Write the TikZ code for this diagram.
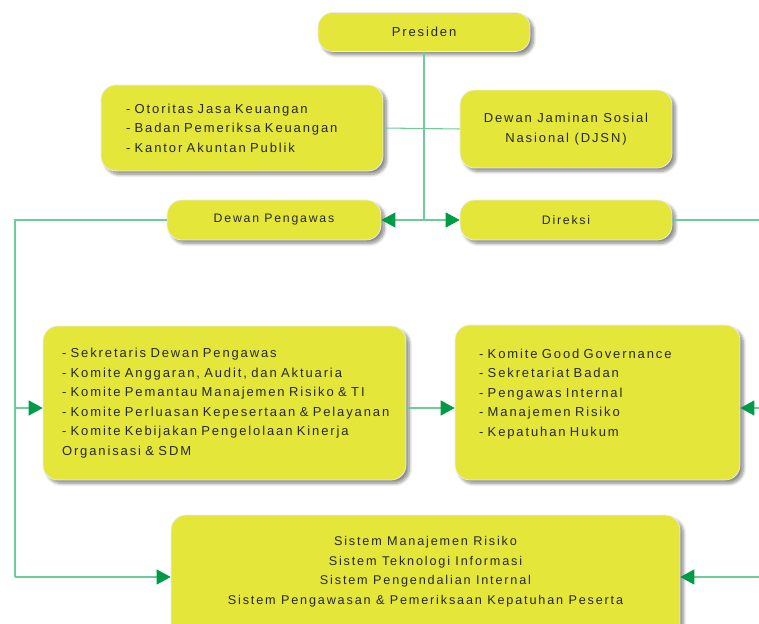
\documentclass[tikz,border=0pt]{standalone}
\usepackage{fontspec}
\newfontfamily\boxfont{Liberation Sans}[LetterSpace=14.5]
\usetikzlibrary{arrows.meta,shadows.blur}
\definecolor{boxyellow}{RGB}{229,230,58}
\definecolor{linegreen}{RGB}{110,205,150}
\definecolor{tipgreen}{RGB}{0,155,70}
\definecolor{boxtext}{RGB}{40,40,40}
\tikzset{
    orgbox/.style={rounded corners=0.3cm, fill=boxyellow, draw=white!85!gray,
        line width=0.4pt, text=boxtext, inner xsep=0pt,
        font=\boxfont\fontsize{7.4}{11.1}\selectfont,
        blur shadow={shadow xshift=0.07cm, shadow yshift=-0.07cm,
            shadow blur steps=8, shadow opacity=45}},
    conn/.style={draw=linegreen, line width=0.6pt},
    arr/.style={conn, -{Triangle[length=0.28cm, width=0.3cm, color=tipgreen]}},
}

\begin{document}
\begin{tikzpicture}[x=0.02cm, y=-0.02cm]
\useasboundingbox (0,0) rectangle (759,624);
\node[orgbox, minimum width=4.24cm, minimum height=0.78cm] (pres) at (424,32) {Presiden};
\node[orgbox, minimum width=5.64cm, minimum height=1.72cm, text width=4.64cm, align=left] (ojk) at (242,128)
    {- Otoritas Jasa Keuangan\\- Badan Pemeriksa Keuangan\\- Kantor Akuntan Publik};
\node[orgbox, minimum width=4.24cm, minimum height=1.56cm, align=center] (djsn) at (566,129)
    {Dewan Jaminan Sosial\\Nasional (DJSN)};
\node[orgbox, minimum width=4.28cm, minimum height=0.8cm, font=\boxfont\fontsize{7}{11.1}\selectfont] (dewas) at (274,220) {Dewan Pengawas};
\node[orgbox, minimum width=4.24cm, minimum height=0.8cm, font=\boxfont\fontsize{7}{11.1}\selectfont] (direksi) at (566,220) {Direksi};
\node[orgbox, minimum width=7.26cm, minimum height=3.08cm, text width=6.5cm, align=left] (komite) at (224.5,403)
    {- Sekretaris Dewan Pengawas\\- Komite Anggaran, Audit, dan Aktuaria\\- Komite Pemantau Manajemen Risiko \& TI\\- Komite Perluasan Kepesertaan \& Pelayanan\\- Komite Kebijakan Pengelolaan Kinerja\\Organisasi \& SDM};
\node[orgbox, minimum width=5.7cm, minimum height=3.1cm, text width=4.74cm, align=left] (unit) at (597.5,402.5)
    {- Komite Good Governance\\- Sekretariat Badan\\- Pengawas Internal\\- Manajemen Risiko\\- Kepatuhan Hukum\\ \mbox{}};
\node[orgbox, minimum width=10.18cm, minimum height=2.6cm, align=center, font=\boxfont\fontsize{7.2}{11.1}\selectfont] (sistem) at (425.5,580)
    {Sistem Manajemen Risiko\\Sistem Teknologi Informasi\\Sistem Pengendalian Internal\\Sistem Pengawasan \& Pemeriksaan Kepatuhan Peserta\\ \mbox{}};
\coordinate (junc) at (424,220);
\coordinate (lt) at (15,220);
\coordinate (lm) at (15,408);
\coordinate (lb) at (15,577);
\coordinate (rt) at (775,220);
\coordinate (rm) at (775,408);
\coordinate (rb) at (775,577);
\draw[conn] (ojk.east) -- (djsn.west);
\draw[conn] (pres.south) -- (junc);
\draw[arr] (junc) -- (dewas.east);
\draw[arr] (junc) -- (direksi.west);
\draw[conn] (dewas.west) -- (lt) -- (lb);
\draw[arr] (lm) -- (lm -| komite.west);
\draw[arr] (lb) -- (lb -| sistem.west);
\draw[arr] (komite.east |- lm) -- (unit.west |- lm);
\draw[conn] (direksi.east) -- (rt) -- (rb);
\draw[arr] (rm) -- (rm -| unit.east);
\draw[arr] (rb) -- (rb -| sistem.east);
\end{tikzpicture}
\end{document}
